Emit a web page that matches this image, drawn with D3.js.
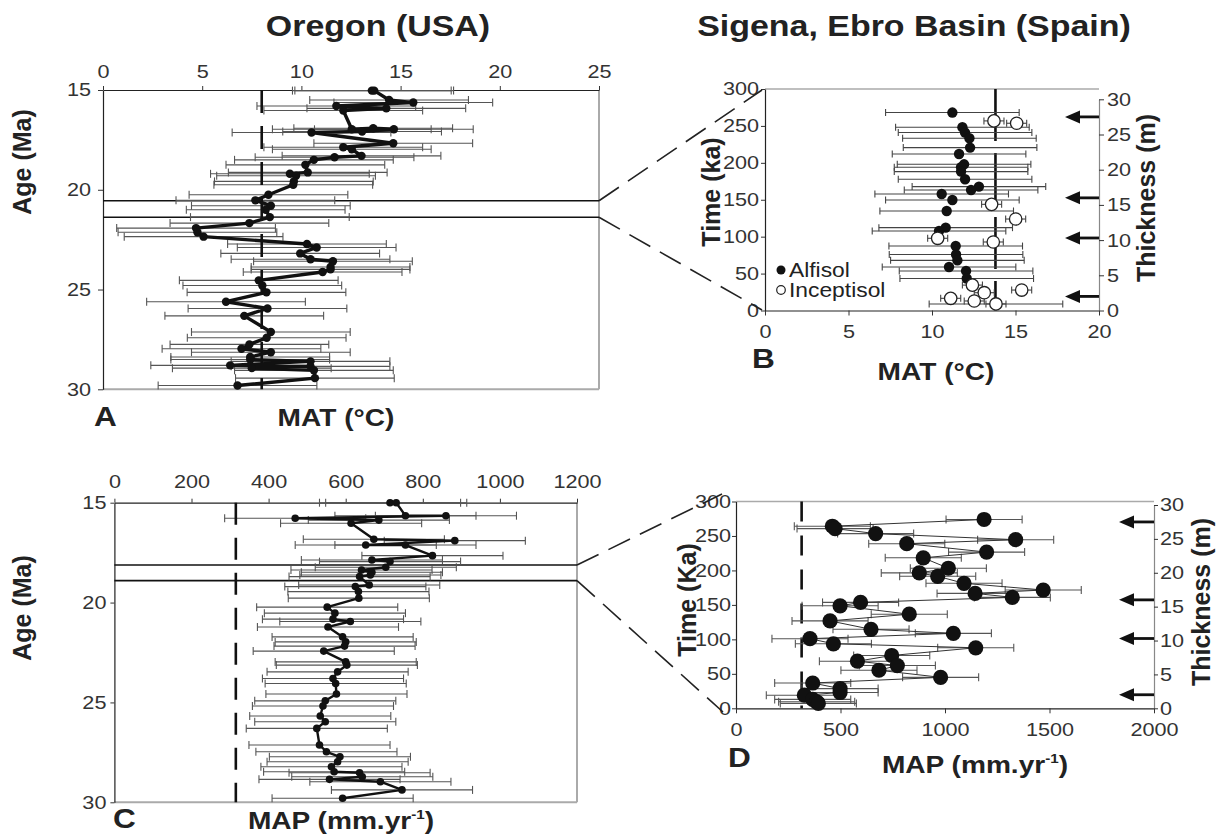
<!DOCTYPE html>
<html><head><meta charset="utf-8">
<script src="https://cdn.jsdelivr.net/npm/d3@7"></script>
<style>
body{margin:0;background:#fff}
svg{display:block}
</style>
</head><body>
<svg id="c" width="1218" height="840"></svg>
<script>
// ---------------- DATA ----------------
// Panel A : Oregon MAT (°C) vs age (Ma), in drawing order
const oregonMAT = [13.55,13.67,14.42,15.64,11.76,14.28,12.11,12.54,13.62,14.66,13.06,10.51,14.63,12.11,12.54,13.03,11.67,10.63,10.20,10.32,9.42,9.73,9.62,9.59,8.34,7.68,8.46,8.20,8.41,7.38,4.69,4.76,5.07,10.28,10.77,9.94,10.46,11.59,11.47,11.47,11.07,7.85,8.03,8.24,6.20,8.29,7.12,8.46,8.25,7.38,6.98,8.46,7.42,7.42,10.46,6.41,10.46,7.50,10.63,10.68,6.78];
const oregonMATAge = [15.03,15.03,15.50,15.63,15.80,15.92,16.03,16.97,16.92,16.97,17.08,17.13,17.67,17.87,17.97,18.30,18.37,18.50,18.75,19.13,19.20,19.30,19.58,19.75,20.25,20.53,20.80,21.00,21.37,21.67,21.92,22.13,22.35,22.72,22.89,23.19,23.48,23.58,23.87,23.99,24.12,24.54,24.80,25.14,25.61,25.95,26.32,27.13,27.42,27.75,27.97,28.14,28.38,28.51,28.60,28.80,28.85,28.94,29.05,29.44,29.81];
const oregonMATErr = 4.0;
const oregonModernMAT = 8.0;
const oregonMATWindow = [20.55, 21.38];

// Panel B : Sigena MAT (°C) vs time (ka)
const alfisolKa  = [268.1,248.2,241.0,233.3,220.6,212.0,198.0,194.0,188.1,177.7,167.8,163.2,157.8,149.7,134.8,112.2,107.7,87.3,75.9,67.9,58.9,53.6,43.3,8.9];
const alfisolMAT = [11.22,11.82,11.98,12.24,12.28,11.62,11.92,11.74,11.74,11.98,12.81,12.34,10.58,11.22,10.88,10.82,10.42,11.42,11.44,11.52,11.02,12.04,12.08,13.83];
const alfisolErr = 4.0;
const inceptisolKa  = [256.8,253.6,143.8,123.9,97.8,92.8,34.4,27.7,24.1,16.5,12.9,8.9];
const inceptisolMAT = [13.71,15.07,13.57,15.01,10.34,13.67,12.42,15.37,13.13,11.12,12.53,13.83];
const inceptisolErr = 0.6;
const sigenaModernMAT = 13.8;

// Panel C : Oregon MAP (mm/yr) vs age (Ma), in drawing order
const oregonMAP = [715,731,755,860,469,686,614,673,883,652,755,825,668,715,704,641,668,664,636,661,625,633,634,552,572,567,612,554,592,600,597,543,600,603,579,567,574,576,547,541,534,547,525,532,550,585,579,563,570,636,643,558,690,746,592];
const oregonMAPAge = [15.00,15.00,15.65,15.65,15.78,15.87,16.03,16.83,16.90,17.12,17.12,17.65,17.87,17.95,18.23,18.37,18.48,18.62,18.70,19.12,19.20,19.45,19.78,20.23,20.53,20.83,20.95,21.22,21.72,21.97,22.18,22.43,22.97,23.13,23.47,23.80,24.05,24.58,24.92,25.18,25.68,25.97,26.30,27.13,27.47,27.72,27.97,28.22,28.47,28.52,28.72,28.85,28.97,29.38,29.80];
const oregonMAPErr = 183;
const oregonModernMAP = 315;
const oregonMAPWindow = [18.12, 18.90];

// Panel D : Sigena MAP (mm/yr) vs time (ka), in drawing order
const sigenaMAPKa = [273.9,264.1,260.7,253.4,244.6,238.8,226.6,218.3,203.2,196.4,191.5,181.3,171.6,166.7,160.9,153.6,148.7,136.5,126.8,114.6,108.7,101.0,93.6,87.8,76.6,68.3,62.0,55.2,44.9,36.7,28.6,22.9,19.0,12.9,9.5,7.1];
const sigenaMAP   = [1187,461,474,668,1338,817,1199,896,1016,877,965,1091,1470,1144,1322,596,498,829,450,646,1040,354,466,1147,745,581,772,684,979,367,498,498,327,367,386,394];
const sigenaMAPErr = 182;
const sigenaModernMAP = 314;

// Arrows (thickness, m)
const arrowThickness = [27.5, 16.0, 10.3, 2.0];

// Ticks
const matATicks = [0,5,10,15,20,25];
const ageTicks  = [15,20,25,30];
const matBTicks = [0,5,10,15,20];
const kaTicks   = [0,50,100,150,200,250,300];
const thickTicks= [0,5,10,15,20,25,30];
const mapCTicks = [0,200,400,600,800,1000,1200];
const mapDTicks = [0,500,1000,1500,2000];

// ---------------- DRAW ----------------
const FONT = '"Liberation Sans", Arial, Helvetica, sans-serif';
const SX = 1.17;
const fmt = d3.format('d');
const svg = d3.select('#c');

function stretch(sel){
  sel.each(function(){
    const l = this.getComputedTextLength();
    d3.select(this).attr('textLength', l*SX).attr('lengthAdjust','spacingAndGlyphs');
  });
}
function label(x,y,s,size,bold,anchor,rot){
  const t = svg.append('text').attr('font-family',FONT).attr('font-size',size)
    .attr('font-weight',bold?'bold':'normal').attr('fill','#222')
    .attr('text-anchor',anchor||'start');
  if(rot){ t.attr('transform',`translate(${x},${y}) rotate(-90)`); }
  else { t.attr('x',x).attr('y',y); }
  t.text(s);
  if(!rot) stretch(t);
  return t;
}
function mapLabel(x,y){
  const t = svg.append('text').attr('font-family',FONT).attr('font-size',24)
    .attr('font-weight','bold').attr('fill','#222').attr('text-anchor','middle')
    .attr('x',x).attr('y',y);
  t.append('tspan').text('MAP (mm.yr');
  t.append('tspan').attr('font-size',13).attr('dy',-10).text('-1');
  t.append('tspan').attr('dy',10).text(')');
  stretch(t);
}
function styleAxis(g, domainColor){
  g.attr('font-family',FONT).attr('font-size',18.5);
  g.selectAll('text').attr('fill','#333');
  g.selectAll('.tick line').attr('stroke','#333').attr('stroke-width',1);
  g.select('.domain').attr('stroke',domainColor||'#222').attr('stroke-width',1.2);
  stretch(g.selectAll('text'));
}
function hline(x1,x2,y,color,w){ svg.append('line').attr('x1',x1).attr('x2',x2).attr('y1',y).attr('y2',y).attr('stroke',color).attr('stroke-width',w); }
function vline(x,y1,y2,color,w,dash){ const l=svg.append('line').attr('x1',x).attr('x2',x).attr('y1',y1).attr('y2',y2).attr('stroke',color).attr('stroke-width',w); if(dash) l.attr('stroke-dasharray',dash); return l; }

function errBars(xs, ys, err, xScale, yScale, cap, color){
  const g = svg.append('g').attr('stroke',color).attr('stroke-width',1.1);
  xs.forEach((v,i)=>{
    const y = yScale(ys[i]), x1 = xScale(v-err), x2 = xScale(v+err);
    g.append('line').attr('x1',x1).attr('x2',x2).attr('y1',y).attr('y2',y);
    g.append('line').attr('x1',x1).attr('x2',x1).attr('y1',y-cap).attr('y2',y+cap);
    g.append('line').attr('x1',x2).attr('x2',x2).attr('y1',y-cap).attr('y2',y+cap);
  });
}
function series(xs, ys, xScale, yScale, lw, r, lineColor){
  const pts = xs.map((v,i)=>[xScale(v), yScale(ys[i])]);
  if(lw>0) svg.append('path').attr('d', d3.line()(pts)).attr('fill','none')
    .attr('stroke',lineColor).attr('stroke-width',lw).attr('stroke-linejoin','round');
  svg.append('g').selectAll('circle').data(pts).join('circle')
    .attr('cx',d=>d[0]).attr('cy',d=>d[1]).attr('r',r).attr('fill','#111');
}
function arrow(xHead, xEnd, y){
  svg.append('line').attr('x1',xHead+10).attr('x2',xEnd).attr('y1',y).attr('y2',y)
    .attr('stroke','#111').attr('stroke-width',2.8);
  svg.append('path').attr('d',`M${xHead},${y} L${xHead+15},${y-6.5} L${xHead+15},${y+6.5} Z`).attr('fill','#111');
}
function connector(x1,y1,x2,y2){
  svg.append('line').attr('x1',x1).attr('y1',y1).attr('x2',x2).attr('y2',y2)
    .attr('stroke','#222').attr('stroke-width',1.6).attr('stroke-dasharray','24,11');
}

// ---------- Panel A ----------
const xA = d3.scaleLinear([0,25],[103,599]);
const yA = d3.scaleLinear([15,30],[90,389.3]);
hline(xA(0), xA(25), yA(30), '#aaa', 2);
vline(xA(25), yA(15), yA(30), '#aaa', 2);
styleAxis(svg.append('g').attr('transform',`translate(0,${yA(15)})`)
  .call(d3.axisTop(xA).tickValues(matATicks).tickFormat(fmt).tickSize(4).tickPadding(8).tickSizeOuter(0)));
styleAxis(svg.append('g').attr('transform',`translate(${xA(0)},0)`)
  .call(d3.axisLeft(yA).tickValues(ageTicks).tickFormat(fmt).tickSize(5).tickPadding(7).tickSizeOuter(0)));
oregonMATWindow.forEach(a=>hline(xA(0), xA(25), yA(a), '#111', 1.6));
errBars(oregonMAT, oregonMATAge, oregonMATErr, xA, yA, 4, '#555');
vline(xA(oregonModernMAT), yA(15), yA(30), '#111', 2.6, '23,13');
series(oregonMAT, oregonMATAge, xA, yA, 3.4, 4.2, '#111');

// ---------- Panel B ----------
const xB = d3.scaleLinear([0,20],[765,1099]);
const yB = d3.scaleLinear([0,300],[310.5,89]);
const yBr = d3.scaleLinear([0,30],[310.5,99.3]);
hline(xB(0), xB(20), yB(300), '#aaa', 1.6);
styleAxis(svg.append('g').attr('transform',`translate(0,${yB(0)})`)
  .call(d3.axisBottom(xB).tickValues(matBTicks).tickFormat(fmt).tickSize(5).tickPadding(9).tickSizeOuter(0)));
styleAxis(svg.append('g').attr('transform',`translate(${xB(0)},0)`)
  .call(d3.axisLeft(yB).tickValues(kaTicks).tickFormat(fmt).tickSize(4).tickPadding(2).tickSizeOuter(0)));
styleAxis(svg.append('g').attr('transform',`translate(${xB(20)},0)`)
  .call(d3.axisRight(yBr).tickValues(thickTicks).tickFormat(fmt).tickSize(5).tickPadding(3).tickSizeOuter(0)), '#888');
vline(xB(sigenaModernMAT), yB(300), yB(0), '#111', 2.6, '52,12');
errBars(alfisolMAT, alfisolKa, alfisolErr, xB, yB, 3.5, '#444');
errBars(inceptisolMAT, inceptisolKa, inceptisolErr, xB, yB, 3.5, '#444');
svg.append('g').selectAll('circle').data(alfisolMAT).join('circle')
  .attr('cx',d=>xB(d)).attr('cy',(d,i)=>yB(alfisolKa[i])).attr('r',5.2).attr('fill','#111');
svg.append('g').selectAll('circle').data(inceptisolMAT).join('circle')
  .attr('cx',d=>xB(d)).attr('cy',(d,i)=>yB(inceptisolKa[i])).attr('r',6.2)
  .attr('fill','#fff').attr('stroke','#222').attr('stroke-width',1.3);
arrowThickness.forEach(t=>arrow(1065, xB(20), yBr(t)));
// legend
svg.append('circle').attr('cx',781).attr('cy',270).attr('r',4.5).attr('fill','#111');
label(789, 277, 'Alfisol', 19.5, false, 'start');
svg.append('circle').attr('cx',781).attr('cy',290).attr('r',4.3).attr('fill','#fff').attr('stroke','#222').attr('stroke-width',1.2);
label(789, 297, 'Inceptisol', 19.5, false, 'start');

// ---------- Panel C ----------
const xC = d3.scaleLinear([0,1200],[114.4,577]);
const yC = d3.scaleLinear([15,30],[502.7,802.3]);
hline(xC(0), xC(1200), yC(30), '#aaa', 2);
vline(xC(1200), yC(15), yC(30), '#aaa', 2);
styleAxis(svg.append('g').attr('transform',`translate(0,${yC(15)})`)
  .call(d3.axisTop(xC).tickValues(mapCTicks).tickFormat(fmt).tickSize(4).tickPadding(11).tickSizeOuter(0)));
styleAxis(svg.append('g').attr('transform',`translate(${xC(0)},0)`)
  .call(d3.axisLeft(yC).tickValues(ageTicks).tickFormat(fmt).tickSize(4).tickPadding(4).tickSizeOuter(0)));
oregonMAPWindow.forEach(a=>hline(xC(0), xC(1200), yC(a), '#111', 1.6));
errBars(oregonMAP, oregonMAPAge, oregonMAPErr, xC, yC, 4, '#555');
vline(xC(oregonModernMAP), yC(15), yC(30), '#111', 2.6, '22,13');
series(oregonMAP, oregonMAPAge, xC, yC, 2.4, 3.8, '#111');

// ---------- Panel D ----------
const xD = d3.scaleLinear([0,2000],[736,1154]);
const yD = d3.scaleLinear([0,300],[708.3,501.5]);
const yDr = d3.scaleLinear([0,30],[708.3,505]);
hline(xD(0), xD(2000), yD(300), '#aaa', 1.6);
styleAxis(svg.append('g').attr('transform',`translate(0,${yD(0)})`)
  .call(d3.axisBottom(xD).tickValues(mapDTicks).tickFormat(fmt).tickSize(5).tickPadding(10).tickSizeOuter(0)));
styleAxis(svg.append('g').attr('transform',`translate(${xD(0)},0)`)
  .call(d3.axisLeft(yD).tickValues(kaTicks).tickFormat(fmt).tickSize(4).tickPadding(1).tickSizeOuter(0)));
styleAxis(svg.append('g').attr('transform',`translate(${xD(2000)},0)`)
  .call(d3.axisRight(yDr).tickValues(thickTicks).tickFormat(fmt).tickSize(4).tickPadding(2).tickSizeOuter(0)), '#888');
vline(xD(sigenaModernMAP), yD(300), yD(0), '#111', 2.6, '20,14');
errBars(sigenaMAP, sigenaMAPKa, sigenaMAPErr, xD, yD, 4, '#555');
series(sigenaMAP, sigenaMAPKa, xD, yD, 1, 7.6, '#333');
arrowThickness.forEach(t=>arrow(1119, xD(2000), yDr(t)));

// ---------- connectors ----------
connector(xA(25), yA(oregonMATWindow[0]), 762, 90);
connector(xA(25), yA(oregonMATWindow[1]), 762, 310);
connector(xC(1200), yC(oregonMAPWindow[0]), 722, 494);
connector(xC(1200), yC(oregonMAPWindow[1]), 723, 712);

// ---------- titles & labels ----------
label(378, 36, 'Oregon (USA)', 29, true, 'middle');
label(914, 36, 'Sigena, Ebro Basin (Spain)', 29, true, 'middle');
label(94, 426, 'A', 27, true, 'start');
label(336, 426, 'MAT (°C)', 24, true, 'middle');
label(752, 368, 'B', 27, true, 'start');
label(936, 380, 'MAT (°C)', 24, true, 'middle');
label(113, 828, 'C', 27, true, 'start');
mapLabel(341, 829);
label(728, 767, 'D', 27, true, 'start');
mapLabel(975, 773);
label(31, 162, 'Age (Ma)', 25, true, 'middle', true);
label(31, 608, 'Age (Ma)', 25, true, 'middle', true);
label(720, 192, 'Time (ka)', 25, true, 'middle', true);
label(696, 600, 'Time (Ka)', 25, true, 'middle', true);
label(1155, 198, 'Thickness (m)', 25, true, 'middle', true);
label(1210, 602, 'Thickness (m)', 25, true, 'middle', true);
</script>
</body></html>
